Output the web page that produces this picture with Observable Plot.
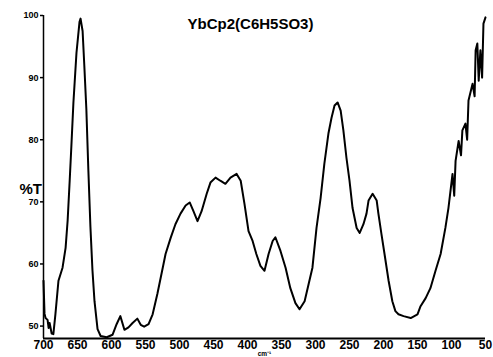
<!DOCTYPE html>
<html>
<head>
<meta charset="utf-8">
<script src="https://cdn.jsdelivr.net/npm/d3@7"></script>
<script src="https://cdn.jsdelivr.net/npm/@observablehq/plot@0.6"></script>
<style>
  html, body { margin: 0; padding: 0; background: #fff; }
  #chart { width: 493px; height: 357px; overflow: hidden; }
</style>
</head>
<body>
<div id="chart"></div>
<script>
const titleText = "YbCp2(C6H5SO3)";
const yLabelText = "%T";
const xLabelText = "cm\u207B\u00B9";
const xTicks = [700, 650, 600, 550, 500, 450, 400, 350, 300, 250, 200, 150, 100, 50];
const yTicks = [50, 60, 70, 80, 90, 100];

const wavenumber = [
  700, 698.5, 697, 694, 692.5, 691, 688, 685.5, 682.5, 678, 672, 667.5, 664.5, 661.5, 659, 656,
  651.5, 647, 645.5, 642.5, 640, 637, 634, 631, 628, 625, 620.5, 616, 607, 598.5,
  592.5, 587, 581, 575, 569, 562, 557, 552, 545.5, 539.5, 532.5, 523.5, 520.5, 513, 506,
  498.5, 491, 485, 479.5, 473.5, 467.5, 460, 454.5, 447, 440, 432.5, 425, 416, 410,
  404.5, 398.5, 392.5, 387, 381, 375, 369, 363, 359, 351.5, 344, 337, 329.5, 323.5,
  316, 310, 304.5, 298.5, 292.5, 287, 281, 276.5, 272, 267.5, 263, 259, 254.5, 250,
  245.5, 239.5, 235, 229.5, 225, 222, 216, 210, 207.5, 203, 198.5, 192.5, 187, 182.5,
  178, 170.5, 160, 150, 145.5, 138, 131, 123.5, 116, 109, 104.5, 98.5, 96, 94, 89.5,
  86, 84, 79.5, 77, 75, 69, 66, 64.5, 62, 60, 57.5, 55, 53, 50
];
const transmittance = [
  57.3, 52, 51.3, 51, 49.7, 50.5, 48.8, 48.7, 51.9, 57.3, 59.4, 62.6, 67, 73.4, 79, 86,
  94, 99, 99.5, 97.5, 92, 85, 75, 66, 59, 54, 49.5, 48.4, 48.2, 48.6,
  50.3, 51.6, 49.4, 49.8, 50.5, 51.2, 50.2, 49.9, 50.3, 51.9, 55.2, 60, 61.6, 64.2, 66.4,
  68.1, 69.4, 69.9, 68.5, 66.9, 68.5, 71.3, 73.1, 73.9, 73.4, 72.9, 73.9, 74.5, 73.4,
  69.7, 65.3, 63.7, 61.6, 59.7, 58.9, 61.6, 63.7, 64.3, 62.1, 59.4, 56.1, 53.7, 52.7,
  54, 56.8, 59.4, 65.8, 70.6, 76.1, 81, 83.5, 85.5, 86, 84.7, 81.5, 77.1, 73.4,
  69, 65.8, 65, 66.4, 68.1, 70.2, 71.3, 70.2, 68.1, 64.8, 61.6, 57.3, 54, 52.4,
  51.9, 51.6, 51.3, 51.9, 53.2, 54.5, 56.1, 58.9, 61.6, 65.8, 69, 74.5, 71, 76.6, 79.8,
  77.5, 81.5, 82.6, 80, 86.3, 89, 87, 94.4, 95.5, 89.5, 94.4, 90, 98.7, 99.7
];

const spectrum = wavenumber.map((w, i) => ({w, t: transmittance[i]}));
const font = "'Liberation Sans', Arial, sans-serif";

const chart = Plot.plot({
  width: 493,
  height: 357,
  marginLeft: 43,
  marginRight: 8,
  marginTop: 15,
  marginBottom: 19,
  style: {fontFamily: font, background: "#fff", color: "#000", overflow: "visible"},
  x: {domain: [700, 50]},
  y: {domain: [48, 100]},
  marks: [
    Plot.axisY({ticks: yTicks, tickSize: 3, tickPadding: 2, fontSize: 9, fontWeight: "bold", label: null, strokeWidth: 1.5}),
    Plot.axisX({ticks: xTicks, tickSize: 0, tickPadding: 2, fontSize: 12, fontWeight: "bold", label: null}),
    Plot.ruleX([700], {stroke: "#000", strokeWidth: 1.5}),
    Plot.ruleY([48], {stroke: "#000", strokeWidth: 2}),
    Plot.line(spectrum, {x: "w", y: "t", stroke: "#000", strokeWidth: 2, curve: "linear"}),
    Plot.text([titleText], {frameAnchor: "top", dx: -14, dy: 9, fontSize: 15, fontWeight: "bold", lineAnchor: "middle", fill: "#000"}),
    Plot.text([yLabelText], {frameAnchor: "left", dx: -24, dy: 12, fontSize: 15, fontWeight: "bold", lineAnchor: "middle", fill: "#000"}),
    Plot.text([xLabelText], {frameAnchor: "bottom", dx: 0, dy: 15, fontSize: 6.5, fontWeight: "bold", lineAnchor: "middle", fill: "#000"})
  ]
});
document.getElementById("chart").appendChild(chart);
</script>
</body>
</html>
